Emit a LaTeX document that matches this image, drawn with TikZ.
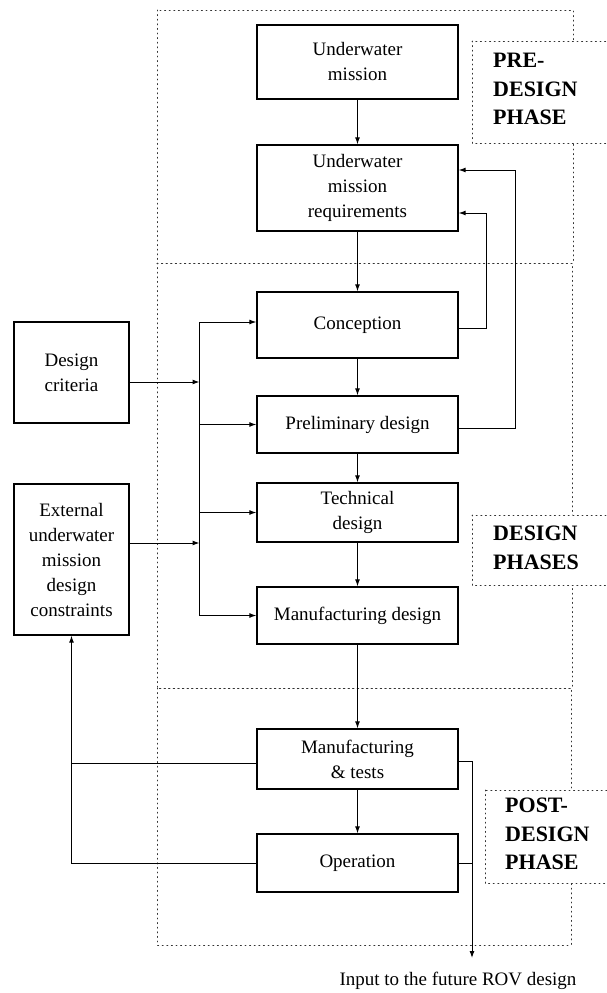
\documentclass[tikz,border=0pt]{standalone}
\usepackage{fontspec}
\setmainfont{Liberation Serif}
\usetikzlibrary{arrows.meta}
\begin{document}
\begin{tikzpicture}[x=1pt,y=-1pt,
  stage/.style={draw, line width=1.3pt, rectangle, inner sep=0pt, align=center,
    font=\fontsize{19}{25}\selectfont},
  mainbox/.style={stage, minimum width=201pt},
  sidebox/.style={stage, minimum width=115pt},
  link/.style={line width=1pt},
  arr/.style={link, -{Latex[length=7pt,width=5pt]}},
  frame/.style={line width=0.9pt, dash pattern=on 1pt off 3.6pt, line cap=round, black!80},
  phase/.style={anchor=west, align=left, inner sep=0pt,
    font=\fontsize{22}{28.5}\selectfont\bfseries}]
\useasboundingbox (0,0) rectangle (606,993);

% phase frames
\draw[frame] (157,10) rectangle (573,263);
\draw[frame] (157,263) rectangle (572,688);
\draw[frame] (157,688) rectangle (571,945);

% phase labels
\draw[frame, fill=white] (472,41) rectangle (630,143);
\node[phase] (lpre) at (493,89) {PRE-\\DESIGN\\PHASE};
\draw[frame, fill=white] (472,515) rectangle (630,585);
\node[phase] (ldes) at (493,548) {DESIGN\\PHASES};
\draw[frame, fill=white] (485,790) rectangle (630,883);
\node[phase] (lpost) at (505,834) {POST-\\DESIGN\\PHASE};

% main chain
\node[mainbox, minimum height=74pt] (um) at (357.5,62) {Underwater\\mission};
\node[mainbox, minimum height=86pt] (umr) at (357.5,188) {Underwater\\mission\\requirements};
\node[mainbox, minimum height=66pt] (con) at (357.5,325) {Conception};
\node[mainbox, minimum height=57pt] (pre) at (357.5,424.5) {Preliminary design};
\node[mainbox, minimum height=59pt] (tec) at (357.5,512.5) {Technical\\design};
\node[mainbox, minimum height=57pt] (mfd) at (357.5,615.5) {Manufacturing design};
\node[mainbox, minimum height=60pt] (mt) at (357.5,759) {Manufacturing\\\& tests};
\node[mainbox, minimum height=58pt] (op) at (357.5,863) {Operation};

% side inputs
\node[sidebox, minimum height=101pt] (dc) at (71.5,372.5) {Design\\criteria};
\node[sidebox, minimum height=151pt] (ext) at (71.5,559.5) {External\\underwater\\mission\\design\\constraints};

\node[inner sep=0pt, font=\fontsize{19}{25}\selectfont] (inp) at (458,981) {Input to the future ROV design};

% junction points
\coordinate (bt) at (199.5,322);
\coordinate (bb) at (199.5,615.5);
\coordinate (jdc) at (199.5,382);
\coordinate (jext) at (199.5,543);
\coordinate (fa) at (486,213);
\coordinate (fb) at (515,170);
\coordinate (out) at (472,958);

% vertical flow
\draw[arr] (um) -- (umr);
\draw[arr] (umr) -- (con);
\draw[arr] (con) -- (pre);
\draw[arr] (pre) -- (tec);
\draw[arr] (tec) -- (mfd);
\draw[arr] (mfd) -- (mt);
\draw[arr] (mt) -- (op);

% distribution bus
\draw[link] (bt) -- (bb);
\draw[arr] (bt) -- (con.west |- bt);
\draw[arr] (pre.west -| bt) -- (pre.west);
\draw[arr] (tec.west -| bt) -- (tec.west);
\draw[arr] (bb) -- (mfd.west);
\draw[arr] (dc.east |- jdc) -- (jdc);
\draw[arr] (ext.east |- jext) -- (jext);

% feedback to requirements
\draw[arr] (con.east |- 0,328) -| (fa) -- (umr.east |- fa);
\draw[arr] (pre.east |- 0,428) -| (fb) -- (umr.east |- fb);

% feedback to constraints
\draw[link] (mt.west |- 0,763) -- (ext.south |- 0,763);
\draw[arr] (op.west) -| (ext.south);

% output to future designs
\draw[arr] (mt.east |- 0,761) -| (out);
\draw[link] (op.east) -- (op.east -| out);
\end{tikzpicture}
\end{document}
